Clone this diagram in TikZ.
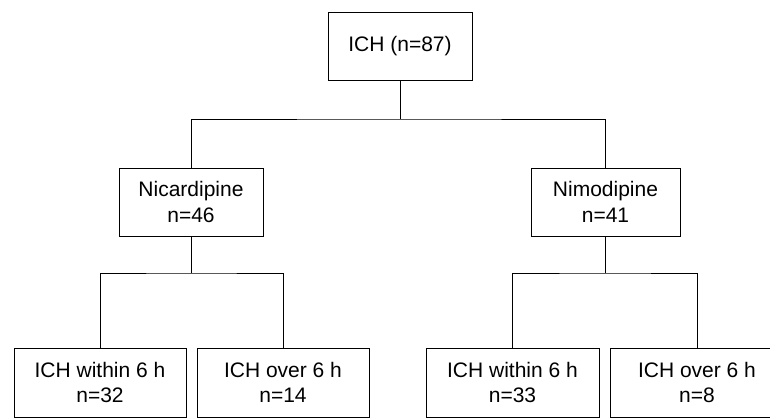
\documentclass[tikz,border=0pt]{standalone}
\usepackage{fontspec}
\setmainfont{Liberation Sans}
\begin{document}
\begin{tikzpicture}[x=1pt, y=-1pt, line width=0.9pt,
    box/.style={draw, rectangle, align=center, inner sep=0pt, minimum height=68pt, font=\fontsize{21}{25.5}\selectfont}]
    \useasboundingbox (0,0) rectangle (770,418);
        \node[box, minimum width=144pt] (ich) at (400,46) {ICH (n=87)};
        \node[box, minimum width=144pt] (nic) at (191,202) {Nicardipine\\n=46};
        \node[box, minimum width=149pt] (nim) at (605.5,202) {Nimodipine\\n=41};
        \node[box, minimum width=172pt, minimum height=69pt] (nicin) at (100,382.5) {ICH within 6 h\\n=32};
        \node[box, minimum width=172pt, minimum height=69pt] (nicover) at (283,382.5) {ICH over 6 h\\n=14};
        \node[box, minimum width=173pt, minimum height=69pt] (nimin) at (512.5,382.5) {ICH within 6 h\\n=33};
        \node[box, minimum width=173pt, minimum height=69pt] (nimover) at (697,382.5) {ICH over 6 h\\n=8};
        \coordinate (j0) at (400,119);
        \coordinate (j1) at (191,273);
        \coordinate (j2) at (605.5,273);
        \draw (ich) -- (j0);
        \draw (nic.north) |- (j0) -| (nim.north);
        \draw (nic) -- (j1);% Nicardipine split
        \draw (nicin.north) |- (j1) -| (nicover.north);
        \draw (nim) -- (j2);% Nimodipine split
        \draw (nimin.north) |- (j2) -| (nimover.north);
    \end{tikzpicture}
\end{document}
